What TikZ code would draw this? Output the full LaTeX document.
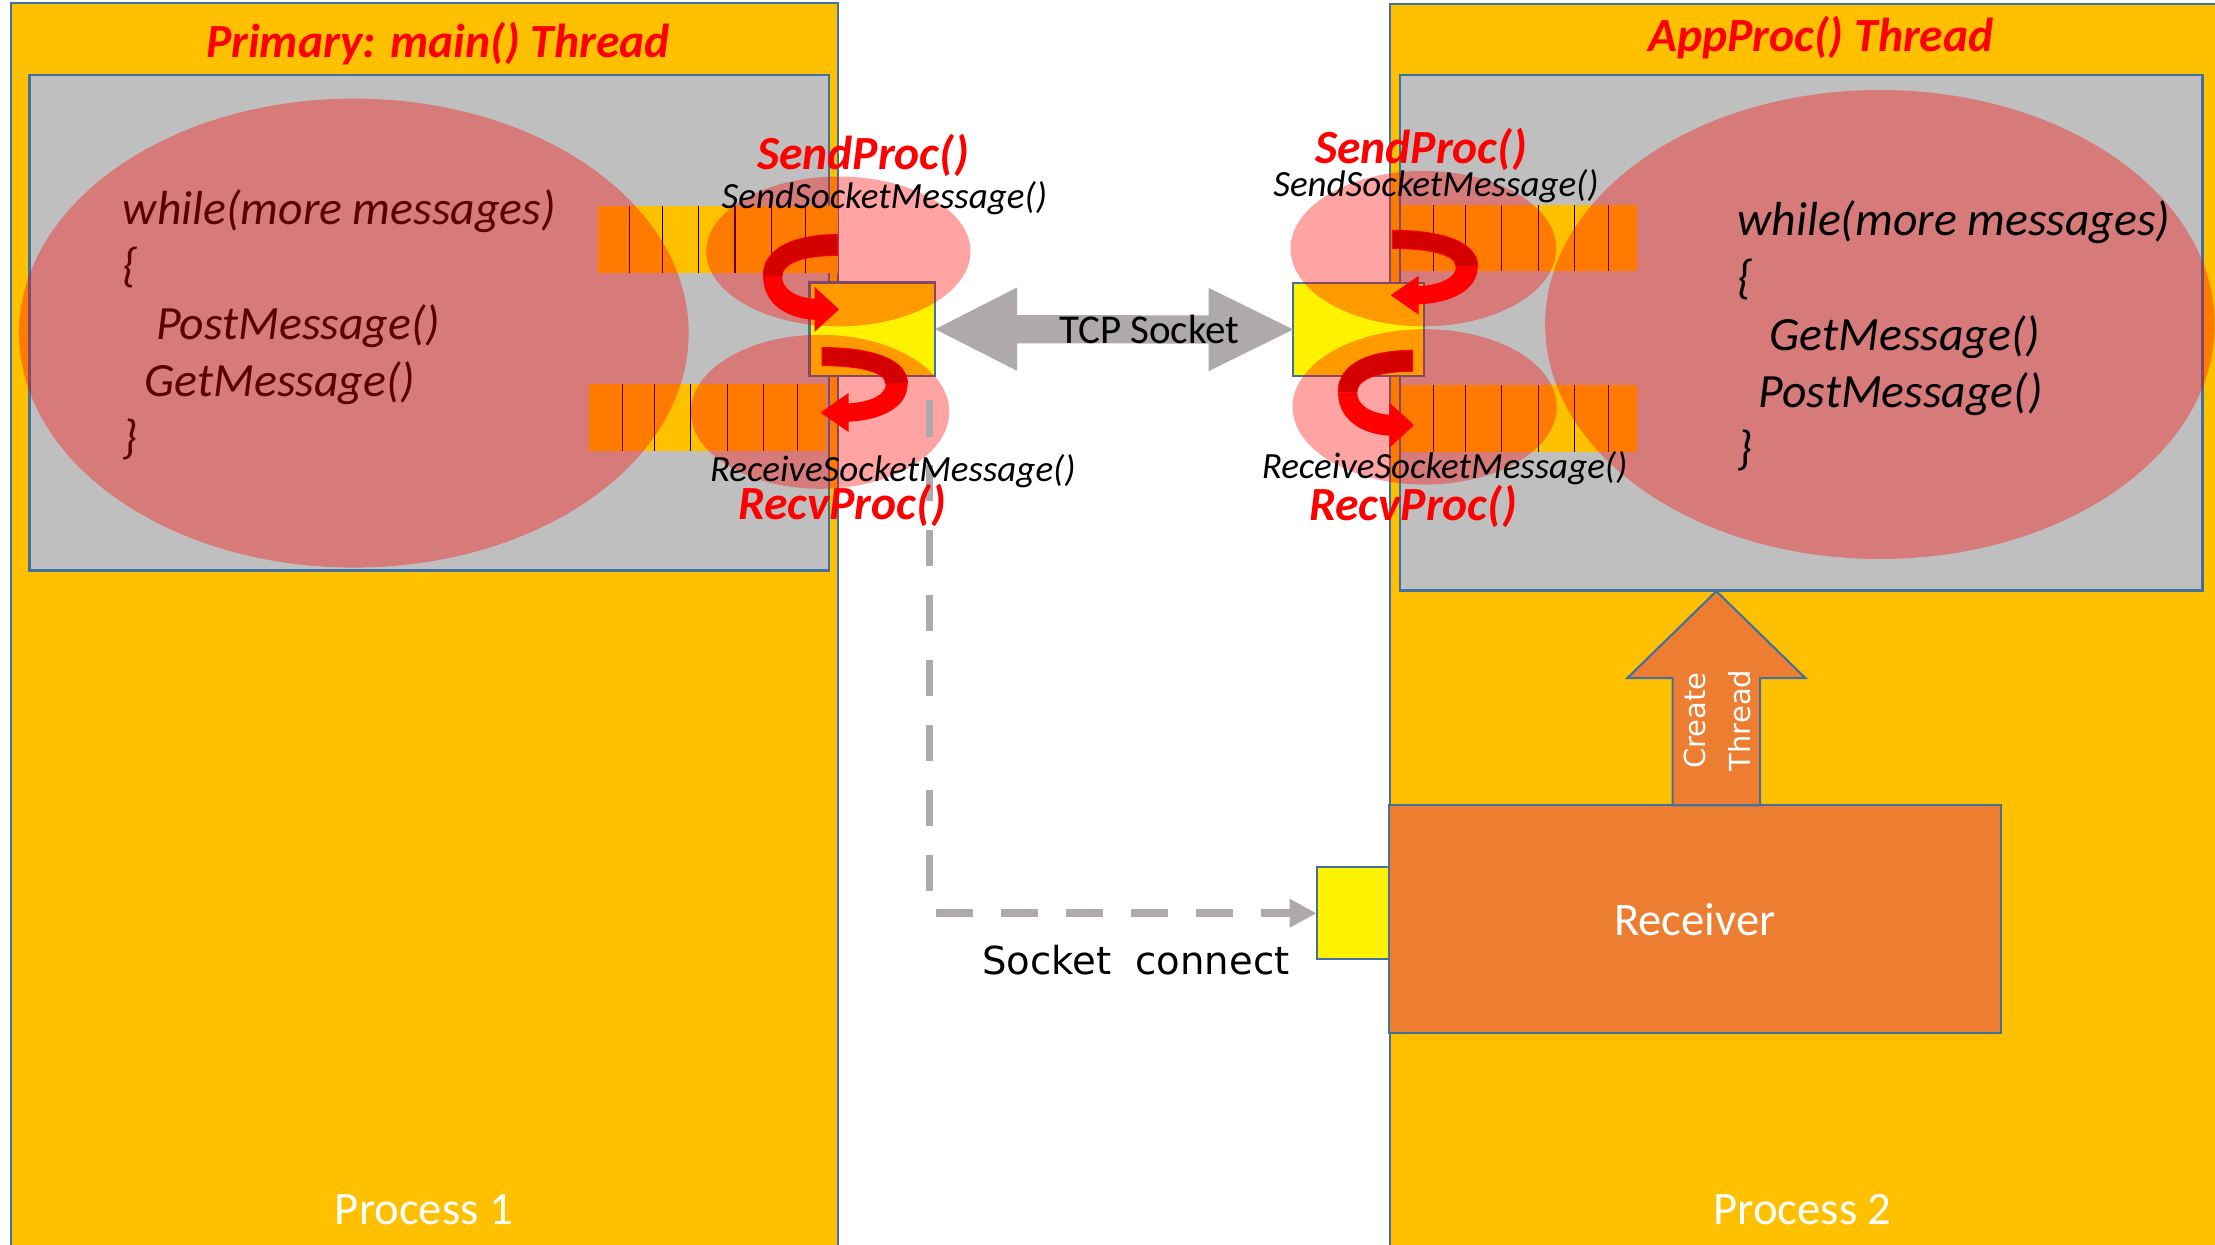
\documentclass[tikz,border=0pt]{standalone}
\usepackage{fontspec}
\setmainfont{Carlito}
\newfontfamily\dejavu{DejaVu Sans}
\usetikzlibrary{calc,arrows.meta}
\definecolor{procfill}{HTML}{FFC000}
\definecolor{bordblue}{HTML}{41719C}
\definecolor{grayfill}{HTML}{BFBFBF}
\definecolor{recvfill}{HTML}{ED7D31}
\definecolor{arrgray}{HTML}{AEAAAA}
\definecolor{backred}{HTML}{D40000}
\begin{document}
\begin{tikzpicture}[x=1pt,y=-1pt,
  box/.style={inner sep=0pt, outer sep=0pt, anchor=north west},
  procbox/.style={box, fill=procfill, draw=bordblue, line width=1.5pt},
  graybox/.style={box, fill=grayfill, draw=bordblue, line width=1.8pt},
  sockbox/.style={box, fill=yellow, draw=bordblue, line width=1.5pt},
  blob/.style={fill=red, fill opacity=0.36},
  queuefill/.style={fill=procfill},
  qline/.style={black, line width=0.8pt},
  txt/.style={inner sep=0pt, outer sep=0pt},
  code/.style={txt, anchor=base west, font=\fontsize{33.8}{40}\selectfont\itshape},
  fn/.style={txt, anchor=base, font=\fontsize{26.2}{30}\selectfont\itshape},
  procname/.style={txt, anchor=base, text=red, font=\fontsize{33.7}{40}\selectfont\bfseries\itshape},
  plabel/.style={txt, anchor=base, text=white, font=\fontsize{33}{40}\selectfont},
  dashconn/.style={arrgray, line width=5.5pt, dash pattern=on 26pt off 20pt, -{Triangle[length=19pt,width=19pt]}},
  curvarr/.pic={
    \fill[backred, draw=red, line width=0.6pt] (0,0) .. controls (-30,0) and (-55,8) .. (-55,28) -- (-41,28) .. controls (-41,18) and (-22,14) .. (0,14) -- cycle;
    \fill[red] (-55,28) .. controls (-55,46) and (-38,56) .. (-17,57) -- (-17,65) -- (1,50) -- (-17,35) -- (-17,43) .. controls (-32,42) and (-41,36) .. (-41,28) -- cycle;
  }
]
\useasboundingbox (0,0) rectangle (1568,881);
\fill[white] (0,0) rectangle (1568,881);
\clip (0,0) rectangle (1568,881);

% process boxes
\node[procbox, minimum width=585pt, minimum height=900pt] (p1) at (8,2) {};
\node[procbox, minimum width=600pt, minimum height=900pt] (p2) at (984,3) {};
% thread boxes
\node[graybox, minimum width=566pt, minimum height=351pt] (g1) at (21,53) {};
\node[graybox, minimum width=568pt, minimum height=365pt] (g2) at (991,53) {};

% left loop text (under the ellipse)
\node[code] (l1) at (87,159) {while(more messages)};
\node[code] (l2) at (87,199.5) {\{};
\node[code] (l3) at (110.5,240) {PostMessage()};
\node[code] (l4) at (102.4,280.5) {GetMessage()};
\node[code] (l5) at (87,321) {\}};

% queues
\fill[queuefill] (423,146) rectangle (593,193);
\foreach \x in {445.7,469,494.2,520.3,546.4,570} \draw[qline] (\x,146) -- (\x,193);
\fill[queuefill] (417,272) rectangle (585,319);
\foreach \x in {440.7,463.4,488.7,514.7,540.6,564.6} \draw[qline] (\x,272) -- (\x,319);
\fill[queuefill] (991.6,145) rectangle (1158.6,192);
\foreach \x in {1014.6,1037.6,1063,1089,1114.3,1138.6} \draw[qline] (\x,145) -- (\x,192);
\fill[queuefill] (991.6,272.5) rectangle (1158.6,319.8);
\foreach \x in {1014.6,1037.6,1063,1089,1114.3,1138.6} \draw[qline] (\x,272.5) -- (\x,319.8);

% socket boxes
\node[sockbox, minimum width=89pt, minimum height=66pt] (sockL) at (573,200) {};
\node[sockbox, minimum width=92.5pt, minimum height=65.5pt] (sockR) at (915.5,200.5) {};

% dashed socket connect
\node[sockbox, minimum width=51pt, minimum height=65pt] (sockC) at (932,614) {};
\coordinate (dstart) at (658,283);

% ellipses
\fill[blob] (250.5,235.8) ellipse [x radius=237, y radius=166];
\fill[blob] (1330.8,229.7) ellipse [x radius=237, y radius=166];
\fill[blob] (593.5,178) ellipse [x radius=93.5, y radius=53];
\fill[blob] (580.5,291.5) ellipse [x radius=91.5, y radius=54.5];
\fill[blob] (1007.6,176) ellipse [x radius=94, y radius=55];
\fill[blob] (1008.5,288) ellipse [x radius=93.5, y radius=55];

\draw[dashconn] (dstart) |- (sockC.west);

% curved arrows
\pic[xscale=0.96, yscale=1.06] at (593,166) {curvarr};
\pic[xscale=-1.1, yscale=0.92] at (582,246) {curvarr};
\pic[xscale=-1.1, yscale=0.92] at (985.6,163) {curvarr};
\pic[xscale=0.96, yscale=1.06] at (1000,248) {curvarr};

% right loop text
\node[code] (r1) at (1230,167) {while(more messages)};
\node[code] (r2) at (1230,207.5) {\{};
\node[code] (r3) at (1252.8,248) {GetMessage()};
\node[code] (r4) at (1245,288.5) {PostMessage()};
\node[code] (r5) at (1230,329) {\}};

% titles
\node[procname] (t1) at (310,41) {Primary: main() Thread};
\node[procname] (t2) at (1289,36.5) {AppProc() Thread};

% function labels
\node[procname] (sp1) at (611,120.3) {SendProc()};
\node[fn] (ss1) at (626,147.5) {SendSocketMessage()};
\node[fn] (rs1) at (632,341) {ReceiveSocketMessage()};
\node[procname] (rp1) at (596,367.5) {RecvProc()};
\node[procname] (sp2) at (1006,115.6) {SendProc()};
\node[fn] (ss2) at (1016.5,139.2) {SendSocketMessage()};
\node[fn] (rs2) at (1022.6,338.5) {ReceiveSocketMessage()};
\node[procname] (rp2) at (1000.5,368.5) {RecvProc()};

% TCP socket double arrow
\fill[arrgray] (sockL.east) -- ($(sockL.east)+(58,-29.5)$) -- ($(sockL.east)+(58,-10)$)
  -- ($(sockR.west)+(-60,-10)$) -- ($(sockR.west)+(-60,-29.5)$) -- (sockR.west)
  -- ($(sockR.west)+(-60,29.5)$) -- ($(sockR.west)+(-60,10)$)
  -- ($(sockL.east)+(58,10)$) -- ($(sockL.east)+(58,29.5)$) -- cycle;
\node[txt, anchor=base, font=\fontsize{29}{34}\selectfont] (tcp) at (813.6,243) {TCP Socket};

\node[txt, anchor=base, font=\dejavu\fontsize{27.3}{32}\selectfont] (sc) at (804,690) {Socket\ \ connect};

% receiver and create-thread arrow
\node[box, fill=recvfill, draw=bordblue, line width=1.5pt, minimum width=433.5pt, minimum height=161pt] (recv) at (983,570) {};
\node[txt, text=white, font=\fontsize{33}{40}\selectfont, anchor=base] (recvt) at (1199.75,662) {Receiver};
\coordinate (ctb) at (1215,570);
\filldraw[fill=recvfill, draw=bordblue, line width=1.5pt]
  ($(ctb)+(-31,0)$) -- ($(ctb)+(-31,-90)$) -- ($(ctb)+(-63,-90)$) -- ($(ctb)+(0,-151.5)$)
  -- ($(ctb)+(63,-90)$) -- ($(ctb)+(31,-90)$) -- ($(ctb)+(31,0)$) -- cycle;
\node[txt, rotate=90, text=white, align=center, font=\dejavu\fontsize{20.5}{32}\selectfont] (ct) at (1216,510) {Create\\Thread};

% process labels
\node[plabel] (pl1) at (300,867) {Process 1};
\node[plabel] (pl2) at (1276,867) {Process 2};
\end{tikzpicture}
\end{document}
